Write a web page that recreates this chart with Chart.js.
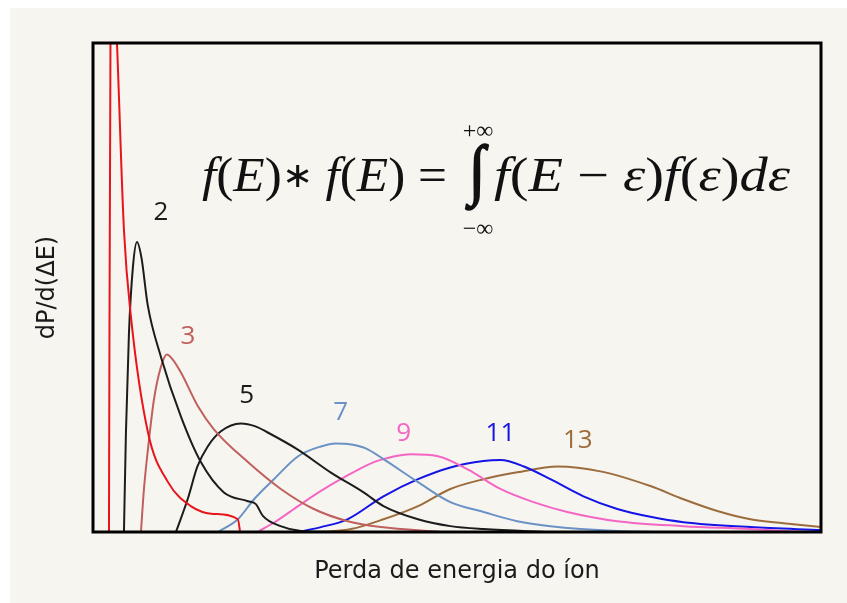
<!DOCTYPE html>
<html>
<head>
<meta charset="utf-8">
<script src="https://cdn.jsdelivr.net/npm/chart.js@4.4.1/dist/chart.umd.min.js"></script>
<style>
    html, body { margin: 0; padding: 0; background: #ffffff; }
    #painel { position: absolute; left: 10px; top: 8px; width: 837px; height: 595px; background: #f7f5f0; }
    #caixa { position: absolute; left: 0; top: 0; width: 847px; height: 603px; }
</style>
</head>
<body>
<div id="painel"></div>
<div id="caixa"><canvas id="grafico" width="847" height="603"></canvas></div>
<script>
// Perda de energia (eixo x, unidades arbitrárias) e dP/d(ΔE) (eixo y)
const energiaN1 = [2.17, 2.4, 2.9, 3.26, 4.21, 5.16, 7.47, 10.2, 13.3, 16.4, 19.7, 20.0];
const probN1    = [0, 110, 112, 100, 61.7, 44.0, 20.4, 10.2, 5.3, 3.7, 2.6, 0];

const energiaN2 = [4.21, 4.48, 4.89, 5.43, 5.98, 6.6, 7.43, 9.24, 11.96, 14.67, 17.8, 21.06, 22.15, 23.1, 25.5, 28.3, 32.3];
const probN2    = [0, 20.4, 40.7, 54.2, 59.3, 56.0, 46.5, 35.8, 23.6, 14.3, 8.1, 6.3, 5.7, 3.3, 1.2, 0.2, 0];

const energiaN3 = [6.52, 6.93, 7.47, 8.29, 9.24, 10.05, 10.87, 11.96, 14.27, 16.44, 21.06, 25.54, 30.03, 34.65, 39.13, 47.3];
const probN3    = [0, 8.8, 16.9, 27.1, 33.8, 36.3, 35.2, 32.6, 25.7, 21.0, 14.3, 8.8, 4.7, 2.2, 1.0, 0];

const energiaN5 = [11.28, 12.87, 14.2, 15.6, 17.4, 20.1, 22.1, 23.7, 27.8, 32.3, 36.8, 39.5, 44.2, 48.6, 53.1, 62.2];
const probN5    = [0, 6.7, 13.4, 17.5, 20.6, 22.2, 21.6, 20.4, 16.9, 12.2, 8.1, 5.3, 2.6, 1.2, 0.6, 0];

const energiaN7 = [17.0, 19.7, 21.9, 24.6, 27.9, 31.0, 33.0, 35.1, 37.1, 39.5, 44.2, 48.6, 53.1, 57.7, 62.2, 71.3, 77.2];
const probN7    = [0, 2.6, 6.7, 10.8, 15.5, 17.5, 18.1, 17.9, 17.1, 14.9, 10.2, 6.1, 4.1, 2.2, 1.2, 0.2, 0];

const energiaN9 = [22.4, 24.9, 27.9, 31.0, 33.7, 38.2, 40.5, 43.2, 46.9, 50.95, 55.4, 59.9, 64.5, 71.3, 80.3, 89.4, 96.2];
const probN9    = [0, 2.2, 5.3, 8.4, 10.8, 14.3, 15.3, 15.9, 15.5, 12.8, 8.8, 6.1, 4.1, 2.2, 1.2, 0.6, 0];

const energiaN11 = [27.9, 31.0, 34.6, 39.5, 44.2, 48.6, 53.1, 55.4, 58.6, 62.2, 66.7, 71.3, 75.8, 80.3, 89.4, 99];
const probN11    = [0, 1.0, 2.6, 7.3, 10.8, 13.2, 14.5, 14.7, 13.4, 10.8, 7.3, 4.7, 3.1, 2.0, 1.0, 0.4];

const energiaN13 = [31.0, 35.1, 39.5, 44.2, 48.6, 53.1, 57.7, 63.2, 69.0, 75.8, 80.3, 84.9, 89.4, 93.9, 99];
const probN13    = [0, 0.6, 2.6, 5.3, 8.8, 10.8, 12.2, 13.4, 12.4, 9.4, 6.7, 4.3, 2.6, 1.8, 1.0];

const numeroColisoes = ['1', '2', '3', '5', '7', '9', '11', '13'];
const tituloX = 'Perda de energia do íon';
const tituloY = 'dP/d(ΔE)';

const cores = ['#e8141c', '#1c1c1c', '#c0605e', '#1c1c1c', '#6b92c6', '#f466c4', '#1414e6', '#9c6c3c'];
// deslocamento do número em relação ao pico de cada curva (px)
const deslocRotulos = { '2': [24, -29], '3': [21, -18], '5': [6, -28], '7': [5, -31], '9': [-7, -21], '11': [0, -27], '13': [20, -26] };

const energias = [energiaN1, energiaN2, energiaN3, energiaN5, energiaN7, energiaN9, energiaN11, energiaN13];
const probs = [probN1, probN2, probN3, probN5, probN7, probN9, probN11, probN13];

const conjuntos = numeroColisoes.map((n, i) => ({
    label: n,
    data: energias[i].map((x, k) => ({ x: x, y: probs[i][k] })),
    borderColor: cores[i],
    borderWidth: 2,
    pointRadius: 0,
    fill: false,
    cubicInterpolationMode: 'monotone'
}));

// moldura preta da área do gráfico
const moldura = {
    id: 'moldura',
    afterDatasetsDraw(chart) {
        const a = chart.chartArea;
        const c = chart.ctx;
        c.save();
        c.strokeStyle = '#000';
        c.lineWidth = 3;
        c.strokeRect(a.left, a.top, a.right - a.left, a.bottom - a.top);
        c.restore();
    }
};

// números ao lado de cada pico
const rotulos = {
    id: 'rotulos',
    afterDatasetsDraw(chart) {
        const c = chart.ctx;
        c.save();
        c.font = '26px "Open Sans"';
        c.textAlign = 'center';
        c.textBaseline = 'middle';
        chart.data.datasets.forEach((ds, i) => {
            const d = deslocRotulos[ds.label];
            if (!d) return;
            const pts = chart.getDatasetMeta(i).data;
            let pico = pts[0];
            pts.forEach(p => { if (p.y < pico.y) pico = p; });
            c.fillStyle = ds.borderColor;
            c.fillText(ds.label, pico.x + d[0], pico.y + d[1]);
        });
        c.restore();
    }
};

// [texto, itálico, escala do tamanho]
const ladoEsquerdo = [['f', 1], ['(', 0], ['E', 1], [')', 0], ['∗', 0, 0.72], [' ', 0], ['f', 1], ['(', 0], ['E', 1], [')', 0], [' =', 0]];
const ladoDireito = [['f', 1], ['(', 0], ['E', 1], [' − ', 0], ['ε', 1], [')', 0], ['f', 1], ['(', 0], ['ε', 1], [')', 0], ['d', 1], ['ε', 1]];

function fonteSerif(t, tam) {
    return (t[1] ? 'italic ' : '') + Math.round(tam * (t[2] || 1)) + 'px "Liberation Serif"';
}

function escreverTrecho(c, trechos, x0, x1, base, tam) {
    let largura = 0;
    trechos.forEach(t => { c.font = fonteSerif(t, tam); largura += c.measureText(t[0]).width; });
    c.save();
    c.translate(x0, base);
    c.scale((x1 - x0) / largura, 1);
    let x = 0;
    trechos.forEach(t => {
        c.font = fonteSerif(t, tam);
        c.fillText(t[0], x, t[2] ? -4 : 0);
        x += c.measureText(t[0]).width;
    });
    c.restore();
}

const formula = {
    id: 'formula',
    afterDatasetsDraw(chart) {
        const c = chart.ctx;
        c.save();
        c.fillStyle = '#111';
        c.strokeStyle = '#111';
        c.textAlign = 'left';
        c.textBaseline = 'alphabetic';
        escreverTrecho(c, ladoEsquerdo, 202, 447, 191, 48);
        escreverTrecho(c, ladoDireito, 494, 790, 191, 48);

        // sinal de integral esticado entre y=144 e y=211
        c.font = '60px "Liberation Serif"';
        const m = c.measureText('∫');
        const alt = m.actualBoundingBoxAscent + m.actualBoundingBoxDescent;
        const larg = m.actualBoundingBoxLeft + m.actualBoundingBoxRight;
        c.save();
        c.translate(466, 144);
        c.scale(23 / larg, 67 / alt);
        c.lineWidth = 1.6;
        c.fillText('∫', m.actualBoundingBoxLeft, m.actualBoundingBoxAscent);
        c.strokeText('∫', m.actualBoundingBoxLeft, m.actualBoundingBoxAscent);
        c.restore();

        c.font = '24px "Liberation Serif"';
        c.textAlign = 'center';
        c.textBaseline = 'middle';
        c.fillText('+∞', 478, 132);
        c.fillText('−∞', 478, 230);
        c.restore();
    }
};

const ctx = document.getElementById('grafico').getContext('2d');
const grafico = new Chart(ctx, {
    type: 'line',
    data: { datasets: conjuntos },
    options: {
        responsive: false,
        animation: false,
        layout: { padding: { top: 43, right: 26, left: 0, bottom: 0 } },
        plugins: { legend: { display: false }, tooltip: { enabled: false } },
        scales: {
            x: {
                type: 'linear', min: 0, max: 99,
                grid: { display: false, drawTicks: false },
                border: { display: false },
                ticks: { display: false },
                title: { display: true, text: tituloX, color: '#1a1a1a',
                         font: { family: 'DejaVu Sans', size: 24 }, padding: { top: 25.2, bottom: 17 } }
            },
            y: {
                min: 0, max: 100,
                grid: { display: false, drawTicks: false },
                border: { display: false },
                ticks: { display: false },
                title: { display: true, text: tituloY, color: '#1a1a1a',
                         font: { family: 'DejaVu Sans', size: 24 }, padding: { top: 33.6, bottom: 30.6 } }
            }
        }
    },
    plugins: [moldura, rotulos, formula]
});
</script>
</body>
</html>
